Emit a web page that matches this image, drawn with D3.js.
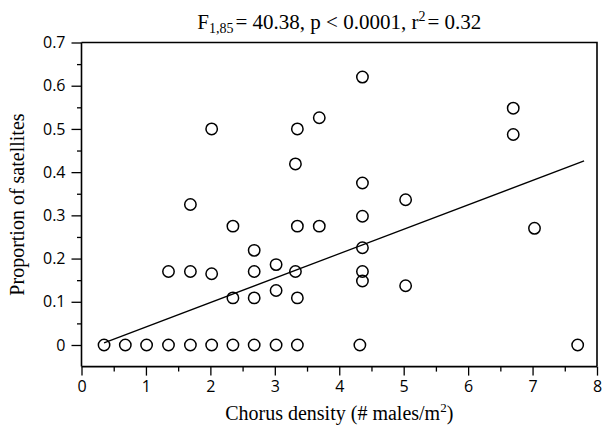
<!DOCTYPE html>
<html>
<head>
<meta charset="utf-8">
<script src="https://cdn.jsdelivr.net/npm/d3@7"></script>
<style>
  body { margin: 0; background: #fff; }
  .tick text { font-family: "Open Sans", "Liberation Sans", sans-serif; }
</style>
</head>
<body>
<div id="chart-area"></div>
<script>
// Data
const density = [4.36, 6.70, 6.70, 2.02, 3.35, 3.69, 3.32, 4.36, 5.03, 1.69,
                 4.36, 2.35, 3.35, 3.69, 7.03, 2.68, 4.36, 3.02, 1.35, 1.69,
                 2.02, 2.68, 3.32, 4.36, 4.36, 5.03, 2.35, 2.68, 3.02, 3.35,
                 0.35, 0.68, 1.01, 1.35, 1.69, 2.02, 2.35, 2.68, 3.02, 3.35, 4.32, 7.70];
const proportion = [0.62, 0.548, 0.487, 0.50, 0.50, 0.526, 0.419, 0.375, 0.336, 0.325,
                    0.298, 0.275, 0.275, 0.275, 0.27, 0.219, 0.225, 0.186, 0.17, 0.17,
                    0.165, 0.17, 0.17, 0.17, 0.148, 0.137, 0.109, 0.109, 0.126, 0.109,
                    0, 0, 0, 0, 0, 0, 0, 0, 0, 0, 0, 0];

// regression line ends
const fitX = [0.35, 7.8];
const fitY = [0.005, 0.426];

const xTicks = [0, 1, 2, 3, 4, 5, 6, 7, 8];
const xMinor = [0.5, 1.5, 2.5, 3.5, 4.5, 5.5, 6.5, 7.5];
const yTicks = [0, 0.1, 0.2, 0.3, 0.4, 0.5, 0.6, 0.7];
const yMinor = [0.05, 0.15, 0.25, 0.35, 0.45, 0.55, 0.65];

// Dimensions
const W = 602, H = 431;
const pLeft = 81.5, pRight = 597, pTop = 42.5, pBottom = 366.6;

const svg = d3.select("#chart-area")
  .append("svg")
    .attr("width", W)
    .attr("height", H);

const x = d3.scaleLinear().domain([0, 8]).range([pLeft, pRight]);
const y = d3.scaleLinear().domain([-0.05, 0.7]).range([pBottom, pTop]);

// frame (top + right)
svg.append("path")
  .attr("d", `M${pLeft},${pTop}H${pRight}V${pBottom}`)
  .attr("fill", "none")
  .attr("stroke", "#000")
  .attr("stroke-width", 1.6);

// x axis
const xAxis = svg.append("g")
  .attr("transform", "translate(0," + pBottom + ")")
  .call(d3.axisBottom(x).tickValues(xTicks).tickSize(9).tickPadding(5).tickFormat(d3.format("d")));
svg.append("g")
  .attr("transform", "translate(0," + pBottom + ")")
  .call(d3.axisBottom(x).tickValues(xMinor).tickSize(5).tickFormat(""))
  .select(".domain").remove();

// y axis
const yAxis = svg.append("g")
  .attr("transform", "translate(" + pLeft + ",0)")
  .call(d3.axisLeft(y).tickValues(yTicks).tickSize(10).tickPadding(6)
    .tickFormat(d => d === 0 ? "0" : d.toFixed(1)));
svg.append("g")
  .attr("transform", "translate(" + pLeft + ",0)")
  .call(d3.axisLeft(y).tickValues(yMinor).tickSize(4.5).tickFormat(""))
  .select(".domain").remove();

svg.selectAll(".domain").attr("stroke-width", 1.6);
svg.selectAll(".tick line").attr("stroke-width", 1.3);
svg.selectAll(".tick text").attr("font-size", 16).attr("fill", "#000");
xAxis.selectAll("path.domain").attr("d", `M${pLeft},0H${pRight}`);
yAxis.selectAll("path.domain").attr("d", `M0,${pBottom}V${pTop}`);

// regression line
svg.append("line")
  .attr("x1", x(fitX[0])).attr("y1", y(fitY[0]))
  .attr("x2", x(fitX[1])).attr("y2", y(fitY[1]))
  .attr("stroke", "#000")
  .attr("stroke-width", 1.3);

// points
svg.selectAll("circle")
  .data(density.map((d, i) => ({ x: d, y: proportion[i] })))
  .enter()
  .append("circle")
    .attr("cx", d => x(d.x))
    .attr("cy", d => y(d.y))
    .attr("r", 5.7)
    .attr("fill", "none")
    .attr("stroke", "#000")
    .attr("stroke-width", 1.5);

// title
const title = svg.append("text")
  .attr("x", (pLeft + pRight) / 2)
  .attr("y", 29)
  .attr("text-anchor", "middle")
  .attr("font-family", "'Liberation Serif', 'Times New Roman', serif")
  .attr("font-size", 21);
title.append("tspan").text("F");
title.append("tspan").attr("font-size", 14).attr("dy", 4).text("1,85");
title.append("tspan").attr("dy", -4).attr("dx", 2).text("= 40.38, p < 0.0001, r");
title.append("tspan").attr("font-size", 14).attr("dy", -8).text("2");
title.append("tspan").attr("dy", 8).attr("dx", 2).text("= 0.32");

// x label
const xLabel = svg.append("text")
  .attr("x", (pLeft + pRight) / 2)
  .attr("y", 420)
  .attr("text-anchor", "middle")
  .attr("font-family", "'Liberation Serif', 'Times New Roman', serif")
  .attr("font-size", 20);
xLabel.append("tspan").text("Chorus density (# males/m");
xLabel.append("tspan").attr("font-size", 13).attr("dy", -8).text("2");
xLabel.append("tspan").attr("dy", 8).text(")");

// y label
svg.append("text")
  .attr("transform", "translate(24," + ((pTop + pBottom) / 2) + ") rotate(-90)")
  .attr("text-anchor", "middle")
  .attr("font-family", "'Liberation Serif', 'Times New Roman', serif")
  .attr("font-size", 20)
  .text("Proportion of satellites");
</script>
</body>
</html>
